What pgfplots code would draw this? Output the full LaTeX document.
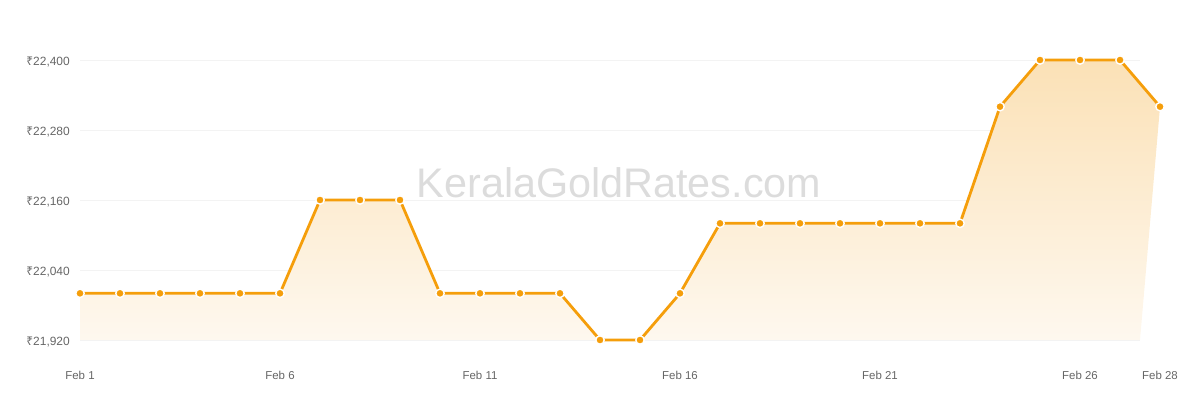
\documentclass[border=0pt]{standalone}
\usepackage{fontspec}
\setmainfont{Liberation Sans}
\newfontfamily\rupeefont{Noto Sans}
\usepackage{pgfplots}
\pgfplotsset{compat=1.18}

\definecolor{goldline}{HTML}{F59E0B}
\definecolor{filltop}{HTML}{FBE1B6}
\definecolor{fillbot}{HTML}{FEF8EF}
\definecolor{gridc}{HTML}{F3F3F3}
\definecolor{labelc}{HTML}{666666}
\definecolor{wmark}{HTML}{DCDCDC}

\begin{document}
\begin{tikzpicture}
  \begin{axis}[
    at={(80bp,60bp)}, anchor=south west,
    scale only axis,
    width=1060bp, height=280bp,
    xmin=1, xmax=27.5,
    ymin=21920, ymax=22400,
    axis line style={draw=none},
    tick style={draw=none},
    clip=false,
    ymajorgrids,
    grid style={gridc, line width=1bp},
    scaled y ticks=false,
    ytick={21920,22040,22160,22280,22400},
    yticklabel={{\rupeefont ₹}\pgfmathprintnumber[fixed, precision=0, assume math mode=true, set thousands separator={,}]{\tick}},
    yticklabel style={font=\fontsize{12}{12}\selectfont, text=labelc, anchor=east, xshift=-10bp, yshift=-1.5bp, inner sep=0pt},
    xtick={1,6,11,16,21,26},
    xticklabels={Feb 1,Feb 6,Feb 11,Feb 16,Feb 21,Feb 26},
    xticklabel style={font=\fontsize{11.5}{11.5}\selectfont, text=labelc, anchor=base, yshift=-39bp, inner sep=0pt},
  ]
    % area under the line, fading down
    \addplot[draw=none, top color=filltop, bottom color=fillbot, forget plot]
      coordinates {
        (1,21920) (1,22000) (2,22000) (3,22000) (4,22000) (5,22000) (6,22000)
        (7,22160) (8,22160) (9,22160) (10,22000) (11,22000) (12,22000) (13,22000)
        (14,21920) (15,21920) (16,22000) (17,22120) (18,22120) (19,22120) (20,22120)
        (21,22120) (22,22120) (23,22120) (24,22320) (25,22400) (26,22400) (27,22400)
        (28,22320) (27.5,21920)
      } -- cycle;

    \addplot[goldline, line width=2.8bp, line join=round,
      mark=*, mark size=4.2bp,
      mark options={fill=goldline, draw=white, line width=1.4bp}]
      coordinates {
        (1,22000) (2,22000) (3,22000) (4,22000) (5,22000) (6,22000)
        (7,22160) (8,22160) (9,22160) (10,22000) (11,22000) (12,22000) (13,22000)
        (14,21920) (15,21920) (16,22000) (17,22120) (18,22120) (19,22120) (20,22120)
        (21,22120) (22,22120) (23,22120) (24,22320) (25,22400) (26,22400) (27,22400)
        (28,22320)
      };

    \node[font=\fontsize{11.5}{11.5}\selectfont, text=labelc, anchor=base, inner sep=0pt]
      at (axis cs:28,21920) [yshift=-39bp] {Feb 28};
  \end{axis}
  \node[font=\fontsize{41.5}{41.5}\selectfont, text=wmark, anchor=base, inner sep=0pt]
    at (619bp,202bp) {KeralaGoldRates.com};
  \pgfresetboundingbox
  \path[use as bounding box] (0,0) rectangle (1200bp,400bp);
\end{tikzpicture}
\end{document}
